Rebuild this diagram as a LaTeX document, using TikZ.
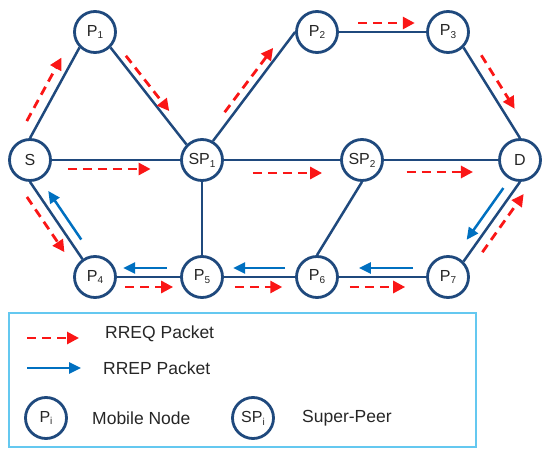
\documentclass[tikz,border=0pt]{standalone}
\usepackage{fontspec}
\setmainfont{Liberation Sans}
\usepackage{xcolor}
\usepackage{tikz}
\usetikzlibrary{arrows.meta, calc}

\definecolor{navy}{RGB}{31,73,125}
\definecolor{reqred}{RGB}{250,22,22}
\definecolor{repblue}{RGB}{0,112,192}
\definecolor{boxblue}{RGB}{100,200,240}
\newcommand{\nsub}[1]{\raisebox{-0.35ex}{\fontsize{10}{10}\selectfont #1}}

\begin{document}
\begin{tikzpicture}[x=1pt, y=-1pt,
    peer/.style={circle, draw=navy, line width=2.8pt, fill=white, minimum size=41pt,
        inner sep=0pt, font=\fontsize{16}{18}\selectfont, text=black!85},
    link/.style={draw=navy, line width=2.5pt},
    rreq/.style={draw=reqred, line width=2.8pt, dash pattern=on 9pt off 6pt,
        -{Triangle[length=12pt,width=12pt]}},
    rrep/.style={draw=repblue, line width=2.5pt, -{Triangle[length=12pt,width=11pt]}},
    legtext/.style={anchor=west, inner sep=0pt, font=\fontsize{17.5}{20}\selectfont, text=black!85}]
    \useasboundingbox (0,0) rectangle (543,449);

    % peers
    \node[peer] (S)   at (30,160)  {S};
    \node[peer] (P1)  at (95,32)   {P\nsub{1}};
    \node[peer] (SP1) at (202,160) {SP\nsub{1}};
    \node[peer] (P2)  at (317,32)  {P\nsub{2}};
    \node[peer] (P3)  at (448,32)  {P\nsub{3}};
    \node[peer] (SP2) at (362,160) {SP\nsub{2}};
    \node[peer] (D)   at (520,160) {D};
    \node[peer] (P4)  at (95,277)  {P\nsub{4}};
    \node[peer] (P5)  at (202,277) {P\nsub{5}};
    \node[peer] (P6)  at (317,277) {P\nsub{6}};
    \node[peer] (P7)  at (448,277) {P\nsub{7}};

    % links
    \foreach \a/\b in {S.north/P1.south west, P1.south east/SP1.north west, S.east/SP1.west,
        SP1.60/P2.west, P2.east/P3.west, P3.south east/D.north, SP1.east/SP2.west,
        SP2.east/D.west, S.south/P4.125, SP1.south/P5.north, P4.east/P5.west,
        P5.east/P6.west, SP2.south/P6.north, P6.east/P7.west, P7.north east/D.south}
        \draw[link] (\a) -- (\b);

    % RREQ packets
    \foreach \a/\b/\s/\e/\d in {S.north/P1.south west/.13/.83/11pt,
        P1.south east/SP1.north west/.13/.70/7pt, S.east/SP1.west/.125/.77/-9pt,
        SP1.60/P2.west/.22/.81/8pt, P2.east/P3.west/.22/.87/9pt,
        P3.south east/D.north/.15/.74/11pt, SP1.east/SP2.west/.25/.845/-13pt,
        SP2.east/D.west/.2/.78/-12pt, S.south/P4.125/.115/.83/-11pt,
        P4.east/P5.west/.13/.89/-10pt, P5.east/P6.west/.155/.82/-10pt,
        P6.east/P7.west/.126/.76/-10pt, P7.north east/D.south/.19/.92/-10pt}
        \draw[rreq] ($(\a)!\s!(\b)!\d!90:(\b)$) -- ($(\a)!\e!(\b)!\d!90:(\b)$);

    % RREP packets
    \foreach \a/\b/\s/\e/\d in {S.south/P4.125/.82/.19/10pt,
        P4.east/P5.west/.79/.1/9pt, P5.east/P6.west/.86/.13/9pt,
        P6.east/P7.west/.85/.23/9pt, P7.north east/D.south/.85/.2/10pt}
        \draw[rrep] ($(\a)!\s!(\b)!\d!90:(\b)$) -- ($(\a)!\e!(\b)!\d!90:(\b)$);

    % legend
    \draw[boxblue, line width=1.5pt] (9,313) rectangle (476,447);
    \coordinate (q1) at (27,338);
    \coordinate (q2) at (79,338);
    \draw[rreq] (q1) -- (q2);
    \node[legtext] (tq) at (105,334) {RREQ Packet};
    \coordinate (r1) at (27,368);
    \coordinate (r2) at (81,368);
    \draw[rrep] (r1) -- (r2);
    \node[legtext] (tr) at (103,368) {RREP Packet};
    \node[peer] (LP) at (46,418) {P\nsub{i}};
    \node[legtext] (tp) at (92,418) {Mobile Node};
    \node[peer] (LSP) at (253,418) {SP\nsub{i}};
    \node[legtext] (tsp) at (302,418) {Super-Peer};
\end{tikzpicture}
\end{document}
